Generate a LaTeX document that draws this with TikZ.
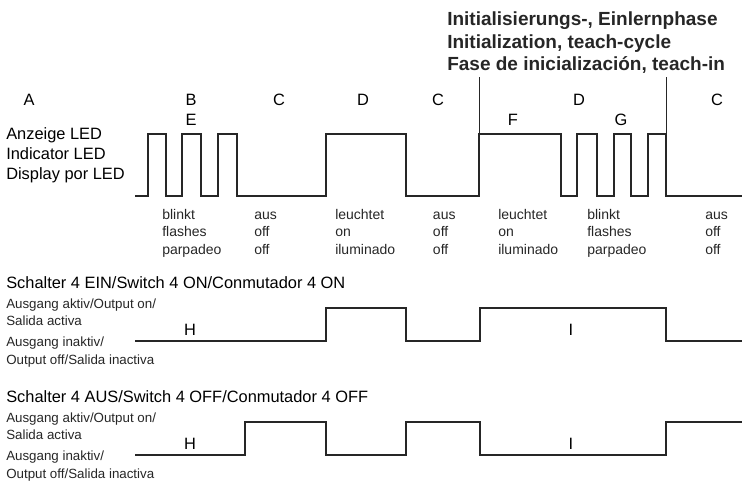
\documentclass[tikz,border=0pt]{standalone}
\usepackage{fontspec}
\setmainfont{Liberation Sans}

\tikzset{
  wave/.style={line width=1.5pt, black!85},
  marker/.style={line width=0.6pt, black!85},
  letter/.style={anchor=base, inner sep=0pt, font=\fontsize{12.3}{14}\selectfont},
  label/.style={anchor=base west, inner sep=0pt, font=\fontsize{12.3}{14}\selectfont},
  small/.style={anchor=base west, inner sep=0pt, font=\fontsize{10.5}{12}\selectfont, black!85},
  tiny/.style={anchor=base west, inner sep=0pt, font=\fontsize{10}{12}\selectfont, black!85},
  head/.style={anchor=base west, inner sep=0pt, font=\fontsize{14.25}{17}\selectfont\bfseries, black!85}
}

\begin{document}
\begin{tikzpicture}[x=0.75pt,y=-0.75pt]
\useasboundingbox (0,0) rectangle (742,486);
\def\lo{196}
\def\hi{134}

% heading of the teach-in phase
\node[head] (hd1) at (447,25) {Initialisierungs-, Einlernphase};
\node[head] (hd2) at (447,48) {Initialization, teach-cycle};
\node[head] (hd3) at (447,70) {Fase de inicialización, teach-in};
\draw[marker] (479,77) -- (479,\hi);
\draw[marker] (666,77) -- (666,\hi);

% phase letters
\foreach \x/\y/\t [count=\i] in {29/105/A, 191/105/B, 191/125/E, 279/105/C, 363/105/D,
    438/105/C, 513/125/F, 579/105/D, 621/125/G, 717/105/C}
  \node[letter] (ph\i) at (\x,\y) {\t};

% LED
\node[label] (led1) at (6,139) {Anzeige LED};
\node[label] (led2) at (6,159) {Indicator LED};
\node[label] (led3) at (6,179) {Display por LED};
\draw[wave] (135,\lo) -| (147.7,\hi) -| (165.7,\lo) -| (182.3,\hi) -| (201,\lo)
  -| (218.3,\hi) -| (236.7,\lo) -| (325.7,\hi) -| (406,\lo) -| (479.3,\hi)
  -| (560.7,\lo) -| (577.3,\hi) -| (596.7,\lo) -| (614.3,\hi) -| (631,\lo)
  -| (648.3,\hi) -| (666,\lo) -- (742,\lo);

\foreach \x/\a/\b/\c [count=\i] in {162/blinkt/flashes/parpadeo, 254/aus/off/off,
    335/leuchtet/on/iluminado, 432.7/aus/off/off, 498/leuchtet/on/iluminado,
    587/blinkt/flashes/parpadeo, 705/aus/off/off} {
  \node[small] (sa\i) at (\x,219) {\a};
  \node[small] (sb\i) at (\x,236.5) {\b};
  \node[small] (sc\i) at (\x,254) {\c};
}

% switch 4 on
\node[label] (on0) at (6,288.5) {Schalter 4 EIN/Switch 4 ON/Conmutador 4 ON};
\node[tiny] (on1) at (6,308) {Ausgang aktiv/Output on/};
\node[tiny] (on2) at (6,325.5) {Salida activa};
\node[tiny] (on3) at (6,346.5) {Ausgang inaktiv/};
\node[tiny] (on4) at (6,364) {Output off/Salida inactiva};
\node[letter] (onh) at (190,335.5) {H};
\node[letter] (oni) at (571,335.5) {I};
\draw[wave] (135,341) -| (326,308) -| (406,341) -| (480,308) -| (666,341) -- (742,341);

% switch 4 off
\begin{scope}[shift={(0,114)}]
\node[label] (off0) at (6,288.5) {Schalter 4 AUS/Switch 4 OFF/Conmutador 4 OFF};
\node[tiny] (off1) at (6,308) {Ausgang aktiv/Output on/};
\node[tiny] (off2) at (6,325.5) {Salida activa};
\node[tiny] (off3) at (6,346.5) {Ausgang inaktiv/};
\node[tiny] (off4) at (6,364) {Output off/Salida inactiva};
\node[letter] (offh) at (190,335.5) {H};
\node[letter] (offi) at (571,335.5) {I};
\draw[wave] (135,341) -| (245,308) -| (326,341) -| (406,308) -| (480,341) -| (666,308) -- (742,308);
\end{scope}
\end{tikzpicture}
\end{document}
